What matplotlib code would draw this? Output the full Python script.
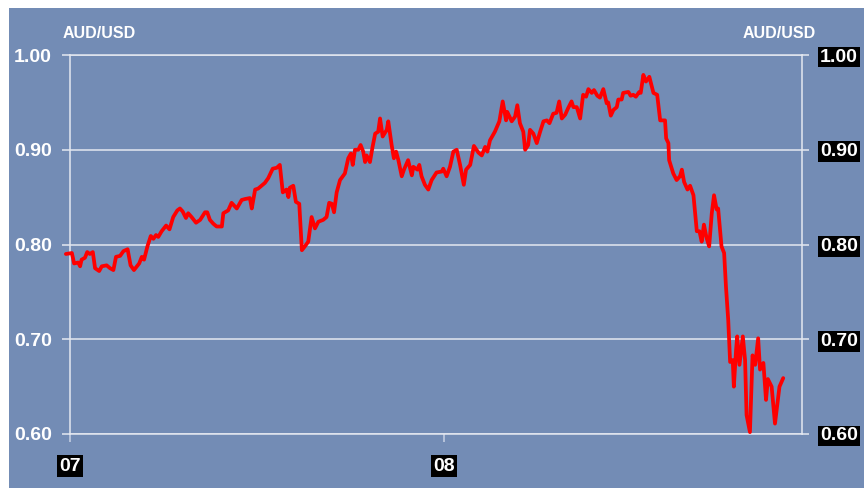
import matplotlib
matplotlib.use("Agg")
import matplotlib.pyplot as plt
from matplotlib.patches import Rectangle

# -------- DATA (AUD/USD, x in decimal years) --------
years = [
    2006.989, 2007.005, 2007.011, 2007.022, 2007.027, 2007.031, 2007.040, 2007.046, 2007.053, 2007.061,
    2007.067, 2007.078, 2007.085, 2007.098, 2007.107, 2007.116, 2007.123, 2007.134, 2007.143, 2007.154,
    2007.162, 2007.171, 2007.185, 2007.192, 2007.198, 2007.207, 2007.216, 2007.223, 2007.230, 2007.236,
    2007.245, 2007.257, 2007.266, 2007.276, 2007.287, 2007.294, 2007.301, 2007.310, 2007.316, 2007.325,
    2007.337, 2007.348, 2007.361, 2007.367, 2007.374, 2007.383, 2007.392, 2007.406, 2007.410, 2007.423,
    2007.432, 2007.446, 2007.459, 2007.468, 2007.481, 2007.486, 2007.495, 2007.503, 2007.521, 2007.530,
    2007.542, 2007.553, 2007.561, 2007.569, 2007.579, 2007.584, 2007.588, 2007.597, 2007.604, 2007.613,
    2007.620, 2007.628, 2007.637, 2007.646, 2007.655, 2007.664, 2007.677, 2007.686, 2007.693, 2007.700,
    2007.706, 2007.713, 2007.722, 2007.735, 2007.744, 2007.751, 2007.756, 2007.762, 2007.771, 2007.777,
    2007.784, 2007.789, 2007.793, 2007.802, 2007.809, 2007.816, 2007.824, 2007.829, 2007.836, 2007.847,
    2007.851, 2007.860, 2007.866, 2007.872, 2007.878, 2007.887, 2007.893, 2007.904, 2007.914, 2007.918,
    2007.929, 2007.934, 2007.940, 2007.949, 2007.958, 2007.967, 2007.980, 2007.994, 2007.998, 2008.007,
    2008.016, 2008.025, 2008.034, 2008.043, 2008.053, 2008.059, 2008.070, 2008.080, 2008.092, 2008.101,
    2008.110, 2008.116, 2008.123, 2008.136, 2008.148, 2008.157, 2008.166, 2008.169, 2008.181, 2008.190,
    2008.196, 2008.203, 2008.212, 2008.217, 2008.225, 2008.230, 2008.239, 2008.248, 2008.257, 2008.266,
    2008.275, 2008.282, 2008.292, 2008.301, 2008.308, 2008.315, 2008.324, 2008.332, 2008.341, 2008.346,
    2008.355, 2008.364, 2008.372, 2008.380, 2008.386, 2008.395, 2008.401, 2008.410, 2008.417, 2008.426,
    2008.435, 2008.439, 2008.446, 2008.453, 2008.462, 2008.466, 2008.475, 2008.479, 2008.493, 2008.499,
    2008.506, 2008.513, 2008.522, 2008.526, 2008.533, 2008.540, 2008.549, 2008.560, 2008.570, 2008.578,
    2008.591, 2008.594, 2008.600, 2008.602, 2008.613, 2008.622, 2008.631, 2008.636, 2008.642, 2008.651,
    2008.658, 2008.667, 2008.676, 2008.683, 2008.689, 2008.695, 2008.702, 2008.709, 2008.716, 2008.722,
    2008.729, 2008.733, 2008.742, 2008.749, 2008.754, 2008.760, 2008.765, 2008.772, 2008.775, 2008.781,
    2008.784, 2008.790, 2008.799, 2008.805, 2008.809, 2008.818, 2008.825, 2008.832, 2008.840, 2008.845,
    2008.854, 2008.861, 2008.866, 2008.876, 2008.885, 2008.897, 2008.907,
]
audusd = [
    0.790, 0.791, 0.780, 0.781, 0.777, 0.784, 0.786, 0.792, 0.790, 0.792,
    0.775, 0.772, 0.777, 0.778, 0.775, 0.773, 0.787, 0.788, 0.793, 0.795,
    0.778, 0.773, 0.780, 0.787, 0.784, 0.798, 0.809, 0.806, 0.810, 0.808,
    0.814, 0.820, 0.816, 0.829, 0.836, 0.838, 0.835, 0.828, 0.833, 0.829,
    0.823, 0.826, 0.834, 0.834, 0.826, 0.822, 0.819, 0.819, 0.833, 0.836,
    0.844, 0.838, 0.847, 0.848, 0.849, 0.838, 0.858, 0.859, 0.865, 0.870,
    0.880, 0.881, 0.884, 0.855, 0.858, 0.850, 0.860, 0.862, 0.845, 0.843,
    0.794, 0.798, 0.803, 0.829, 0.817, 0.824, 0.826, 0.829, 0.844, 0.843,
    0.834, 0.855, 0.868, 0.875, 0.891, 0.896, 0.884, 0.900, 0.900, 0.905,
    0.898, 0.887, 0.894, 0.887, 0.903, 0.917, 0.919, 0.933, 0.914, 0.921,
    0.930, 0.905, 0.891, 0.898, 0.889, 0.872, 0.879, 0.889, 0.873, 0.882,
    0.879, 0.884, 0.872, 0.863, 0.858, 0.868, 0.876, 0.877, 0.880, 0.872,
    0.882, 0.898, 0.900, 0.884, 0.863, 0.879, 0.884, 0.904, 0.897, 0.894,
    0.903, 0.898, 0.910, 0.919, 0.930, 0.951, 0.931, 0.940, 0.930, 0.935,
    0.947, 0.928, 0.919, 0.900, 0.905, 0.921, 0.917, 0.907, 0.919, 0.930,
    0.931, 0.928, 0.938, 0.939, 0.951, 0.933, 0.937, 0.944, 0.951, 0.945,
    0.945, 0.933, 0.958, 0.956, 0.964, 0.960, 0.963, 0.957, 0.955, 0.964,
    0.949, 0.950, 0.936, 0.942, 0.945, 0.953, 0.953, 0.960, 0.961, 0.957,
    0.958, 0.956, 0.961, 0.960, 0.979, 0.972, 0.977, 0.960, 0.958, 0.931,
    0.931, 0.912, 0.907, 0.889, 0.875, 0.868, 0.872, 0.879, 0.866, 0.858,
    0.862, 0.852, 0.814, 0.814, 0.803, 0.821, 0.807, 0.798, 0.833, 0.852,
    0.837, 0.838, 0.798, 0.791, 0.755, 0.720, 0.676, 0.678, 0.650, 0.689,
    0.703, 0.673, 0.703, 0.678, 0.620, 0.602, 0.683, 0.673, 0.701, 0.668,
    0.675, 0.636, 0.658, 0.650, 0.611, 0.650, 0.659,
]

y_ticks = [0.60, 0.70, 0.80, 0.90, 1.00]
x_ticks = [2007, 2008]
x_labels = ["07", "08"]

BG = "#738CB5"
LINE = "#FF0000"
GRID = "#E4E8F0"

plt.rcParams["font.family"] = ["Liberation Sans", "DejaVu Sans"]

fig = plt.figure(figsize=(8.64, 4.88), dpi=100, facecolor="white")
# blue panel, leaving a thin white strip on top and left
fig.patches.append(Rectangle((9 / 864, 0), 1, 1 - 8 / 488, transform=fig.transFigure,
                             facecolor=BG, edgecolor="none", zorder=-10))

ax = fig.add_axes([70 / 864, 1 - 434 / 488, 732 / 864, 379 / 488])
ax.set_facecolor(BG)
ax.plot(years, audusd, color=LINE, lw=2.7, clip_on=False, zorder=5,
        solid_joinstyle="round", solid_capstyle="round")

ax.set_xlim(2007, 2007 + 732 / 374)
ax.set_ylim(0.6, 1.0)

# -------- GRID + SPINES --------
ax.set_yticks(y_ticks)
ax.set_yticklabels([f"{v:.2f}" for v in y_ticks])
ax.yaxis.grid(True, color=GRID, lw=1.1)
ax.set_axisbelow(True)
for side in ["left", "right", "top", "bottom"]:
    ax.spines[side].set_color(GRID)
    ax.spines[side].set_linewidth(1.1)

ax.tick_params(axis="y", direction="out", length=6, width=1.1, color=GRID,
               labelcolor="white", labelsize=14, pad=7)
for lbl in ax.get_yticklabels():
    lbl.set_fontweight("bold")

ax.set_xticks(x_ticks)
ax.set_xticklabels(x_labels)
ax.tick_params(axis="x", direction="out", length=6, width=1.1, color="#C8D2E4",
               labelcolor="white", labelsize=14, pad=11)
for lbl in ax.get_xticklabels():
    lbl.set_fontweight("bold")
    lbl.set_bbox(dict(facecolor="black", edgecolor="none", boxstyle="square,pad=0.12"))

# -------- RIGHT AXIS --------
ax2 = ax.twinx()
ax2.set_ylim(0.6, 1.0)
ax2.set_yticks(y_ticks)
ax2.set_yticklabels([f"{v:.2f}" for v in y_ticks])
for side in ["left", "right", "top", "bottom"]:
    ax2.spines[side].set_visible(False)
ax2.tick_params(axis="y", direction="out", length=5, width=1.1, color=GRID,
                labelcolor="white", labelsize=14, pad=8)
for lbl in ax2.get_yticklabels():
    lbl.set_fontweight("bold")
    lbl.set_bbox(dict(facecolor="black", edgecolor="none", boxstyle="square,pad=0.1"))

# -------- AXIS TITLES --------
fig.text(63 / 864, 1 - 33 / 488, "AUD/USD", color="white", fontsize=11.5,
         fontweight="bold", ha="left", va="center")
fig.text(816 / 864, 1 - 33 / 488, "AUD/USD", color="white", fontsize=11.5,
         fontweight="bold", ha="right", va="center")

fig.savefig("out.png", dpi=100, facecolor="white")
